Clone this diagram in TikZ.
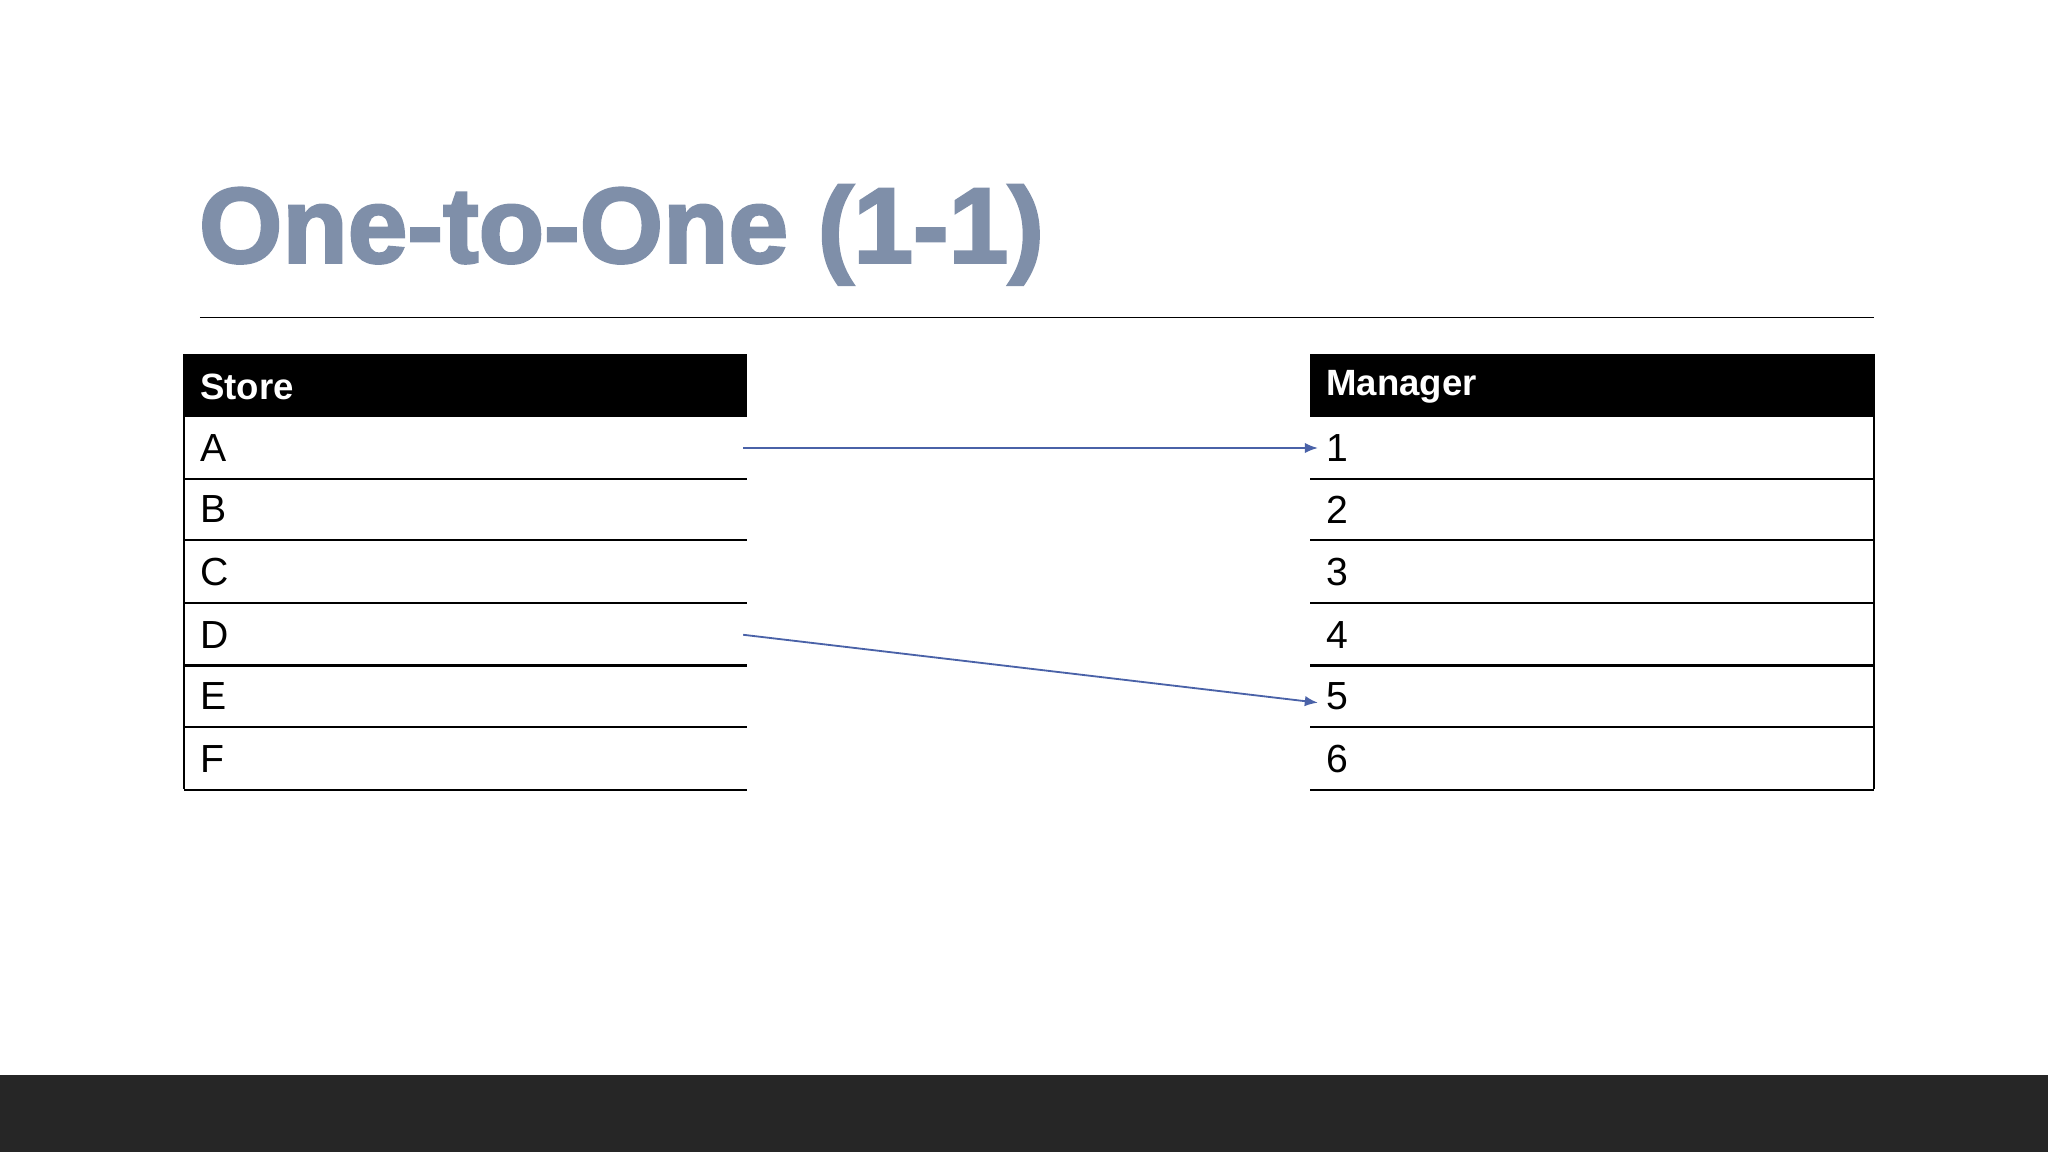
\documentclass[tikz,border=0pt]{standalone}
\usepackage{fontspec}
\setmainfont{Liberation Sans}
\usetikzlibrary{arrows.meta}
\definecolor{titleblue}{HTML}{7F8FA9}
\definecolor{arrowblue}{HTML}{4A62A8}
\definecolor{barcol}{HTML}{262626}
\tikzset{
  hdr/.style={fill=black,draw=black},
  celltext/.style={anchor=west,font=\fontsize{15}{18}\selectfont,inner sep=0pt},
  hdrtext/.style={anchor=west,font=\bfseries\fontsize{14}{17}\selectfont,text=white,inner sep=0pt},
  rowline/.style={draw=black,line width=0.8pt},
  link/.style={draw=arrowblue,line width=0.7pt,-{Latex[length=5pt,width=4pt]}}
}
\begin{document}
\begin{tikzpicture}[x=0.5pt,y=-0.5pt]
\useasboundingbox (0,0) rectangle (1568,882);
\fill[barcol] (0,823) rectangle (1568,882);
\node[anchor=base west,inner sep=0pt,text=titleblue,font=\bfseries\fontsize{41}{48}\selectfont] (title) at (152,201) {\addfontfeatures{FakeBold=2.5}One-to-One (1-1)};
\draw[line width=0.6pt] (153,243) -- (1435,243);
% left table
\fill[black] (141,271) rectangle (572,319);
\node[hdrtext] (sh) at (153,296) {Store};
\draw[rowline] (141,271) -- (141,604);
\foreach \y/\t [count=\i] in {343/A,390/B,438/C,486/D,533/E,581/F}{
  \node[celltext] (s\i) at (153,\y) {\t};
  \draw[rowline] (141,\y+23.5) -- (572,\y+23.5);
}
% right table
\fill[black] (1003,271) rectangle (1435,319);
\node[hdrtext] (mh) at (1015,296) {Manager};
\draw[rowline] (1435,271) -- (1435,604);
\foreach \y/\t [count=\i] in {343/1,390/2,438/3,486/4,533/5,581/6}{
  \node[celltext] (m\i) at (1015,\y) {\t};
  \draw[rowline] (1003,\y+23.5) -- (1435,\y+23.5);
}
\coordinate (a1) at (569,343);
\coordinate (b1) at (1009,343);
\coordinate (a2) at (569,486);
\coordinate (b2) at (1009,538);
\draw[link] (a1) -- (b1);
\draw[link] (a2) -- (b2);
\end{tikzpicture}
\end{document}
